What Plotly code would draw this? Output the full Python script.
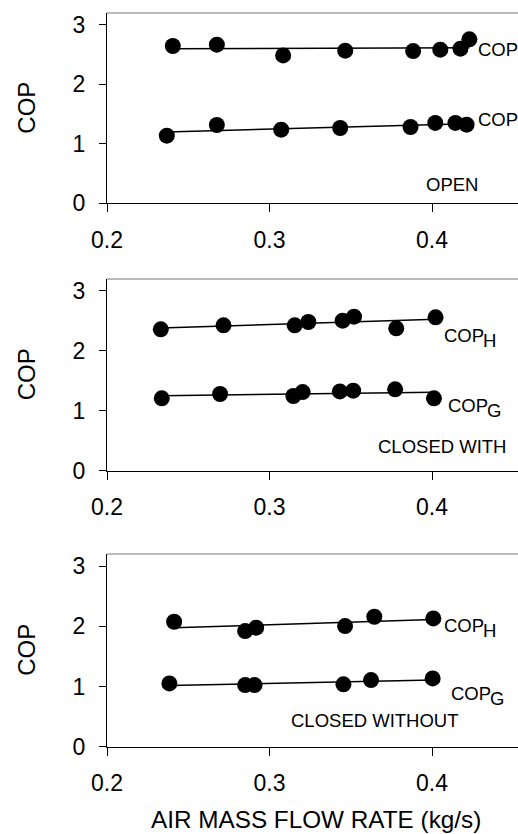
import numpy as np
import plotly.graph_objects as go

# ---------------- data ----------------
open_x_h = [0.2405, 0.2676, 0.3084, 0.3466, 0.3884, 0.4051, 0.4175, 0.4230]
open_y_h = [2.645, 2.667, 2.487, 2.566, 2.560, 2.583, 2.600, 2.757]
open_x_g = [0.2368, 0.2676, 0.3072, 0.3435, 0.3868, 0.4020, 0.4144, 0.4213]
open_y_g = [1.137, 1.317, 1.238, 1.266, 1.283, 1.351, 1.351, 1.322]

with_x_h = [0.2331, 0.2717, 0.3155, 0.3239, 0.3450, 0.3520, 0.3780, 0.4022]
with_y_h = [2.360, 2.426, 2.426, 2.482, 2.504, 2.571, 2.377, 2.560]
with_x_g = [0.2337, 0.2696, 0.3147, 0.3204, 0.3433, 0.3515, 0.3773, 0.4012]
with_y_g = [1.208, 1.280, 1.247, 1.313, 1.324, 1.336, 1.358, 1.208]

without_x_h = [0.2413, 0.2850, 0.2918, 0.3465, 0.3645, 0.4008]
without_y_h = [2.075, 1.920, 1.976, 2.003, 2.158, 2.130]
without_x_g = [0.2384, 0.2850, 0.2908, 0.3455, 0.3625, 0.4004]
without_y_g = [1.051, 1.024, 1.024, 1.035, 1.107, 1.134]

x_ticks = [0.2, 0.3, 0.4]
x_tick_labels = ["0.2", "0.3", "0.4"]
y_ticks = [0, 1, 2, 3]
y_tick_labels = ["0", "1", "2", "3"]

panel_names = ["OPEN", "CLOSED WITH", "CLOSED WITHOUT"]
y_title = "COP"
x_title = "AIR MASS FLOW RATE (kg/s)"

FONT = "Liberation Sans, Arial, sans-serif"
W, H = 518, 834
LBL = 18.5

panels = [
    (open_x_h, open_y_h, open_x_g, open_y_g),
    (with_x_h, with_y_h, with_x_g, with_y_g),
    (without_x_h, without_y_h, without_x_g, without_y_g),
]

# pixel layout of the three plot boxes (top, bottom)
boxes = [(13, 203.3), (279, 470.7), (554, 746.7)]
left_px = 107

fig = go.Figure()

def trend(xs, ys):
    k, b = np.polyfit(xs, ys, 1)
    x0, x1 = min(xs), max(xs)
    return [x0, x1], [k * x0 + b, k * x1 + b]

for i, (xh, yh, xg, yg) in enumerate(panels):
    sfx = "" if i == 0 else str(i + 1)
    for xs, ys in ((xh, yh), (xg, yg)):
        lx, ly = trend(xs, ys)
        fig.add_trace(go.Scatter(x=lx, y=ly, mode="lines",
                                 line=dict(color="black", width=1.5),
                                 xaxis="x" + sfx, yaxis="y" + sfx,
                                 showlegend=False, hoverinfo="skip"))
        fig.add_trace(go.Scatter(x=xs, y=ys, mode="markers",
                                 marker=dict(color="black", size=16, symbol="circle"),
                                 xaxis="x" + sfx, yaxis="y" + sfx,
                                 showlegend=False))

xr = [0.2, 0.2 + (W - left_px) / 1625.0]
layout = dict(
    width=W, height=H,
    margin=dict(l=0, r=0, t=0, b=0),
    paper_bgcolor="white", plot_bgcolor="white",
    font=dict(family=FONT, color="black"),
    showlegend=False,
)
shapes = []
annotations = []
for i, (top, bot) in enumerate(boxes):
    sfx = "" if i == 0 else str(i + 1)
    ydom = [1 - bot / H, 1 - top / H]
    layout["xaxis" + sfx] = dict(
        domain=[left_px / W, 1.0], range=xr, anchor="y" + sfx,
        tickvals=x_ticks, ticktext=x_tick_labels,
        ticks="outside", ticklen=8, tickwidth=1, tickcolor="black",
        showline=True, linecolor="black", linewidth=1.2,
        showgrid=False, zeroline=False, automargin=False,
        tickfont=dict(family=FONT, size=23, color="black"),
        ticklabelstandoff=8,
    )
    layout["yaxis" + sfx] = dict(
        domain=ydom, range=[0, 3.2], anchor="x" + sfx,
        tickvals=y_ticks, ticktext=y_tick_labels,
        ticks="outside", ticklen=7, tickwidth=1, tickcolor="black",
        showline=True, linecolor="black", linewidth=1.2,
        showgrid=False, zeroline=False, automargin=False,
        tickfont=dict(family=FONT, size=23, color="black"),
        ticklabelstandoff=9,
    )
    xref_d = "x" + sfx + " domain"
    yref_d = "y" + sfx + " domain"
    shapes.append(dict(type="line", xref=xref_d, yref=yref_d, x0=0, x1=1, y0=1, y1=1,
                       line=dict(color="#777777", width=1.2)))
    # y axis title
    annotations.append(dict(text=y_title, x=26.5 / W, y=(ydom[0] + ydom[1]) / 2,
                            xref="paper", yref="paper", textangle=-90, showarrow=False,
                            font=dict(family=FONT, size=24, color="black"),
                            xanchor="center", yanchor="middle"))

def ann(text, x, y, sfx, size=LBL, xanchor="left", xshift=0, yshift=0):
    annotations.append(dict(text=text, x=x, y=y, xref="x" + sfx, yref="y" + sfx,
                            showarrow=False, xanchor=xanchor, yanchor="middle",
                            xshift=xshift, yshift=yshift, borderpad=0,
                            font=dict(family=FONT, size=size, color="black")))

def cop_sub(s, x, y, sfx):
    ann("COP", x, y, sfx)
    ann(s, x, y, sfx, xshift=39, yshift=-5)

# panel 1 labels
ann("COP", 0.4278, 2.578, "")
ann("COP", 0.4278, 1.407, "")
ann(panel_names[0], 0.4126, 0.309, "", xanchor="center")
# panel 2 labels
cop_sub("H", 0.4067, 2.249, "2")
cop_sub("G", 0.4092, 1.080, "2")
ann(panel_names[1], 0.4062, 0.396, "2", xanchor="center")
# panel 3 labels
cop_sub("H", 0.4070, 2.005, "3")
cop_sub("G", 0.4111, 0.887, "3")
ann(panel_names[2], 0.3650, 0.432, "3", xanchor="center")

# x axis title
annotations.append(dict(text=x_title, x=316 / W, y=1 - 819 / H, xref="paper", yref="paper",
                        showarrow=False, xanchor="center", yanchor="middle", borderpad=0,
                        font=dict(family=FONT, size=24.3, color="black")))

layout["shapes"] = shapes
layout["annotations"] = annotations
fig.update_layout(**layout)
fig.write_html("out.html", config={"displayModeBar": False},
               post_script="document.body.style.margin='0';document.body.style.overflow='hidden';")
